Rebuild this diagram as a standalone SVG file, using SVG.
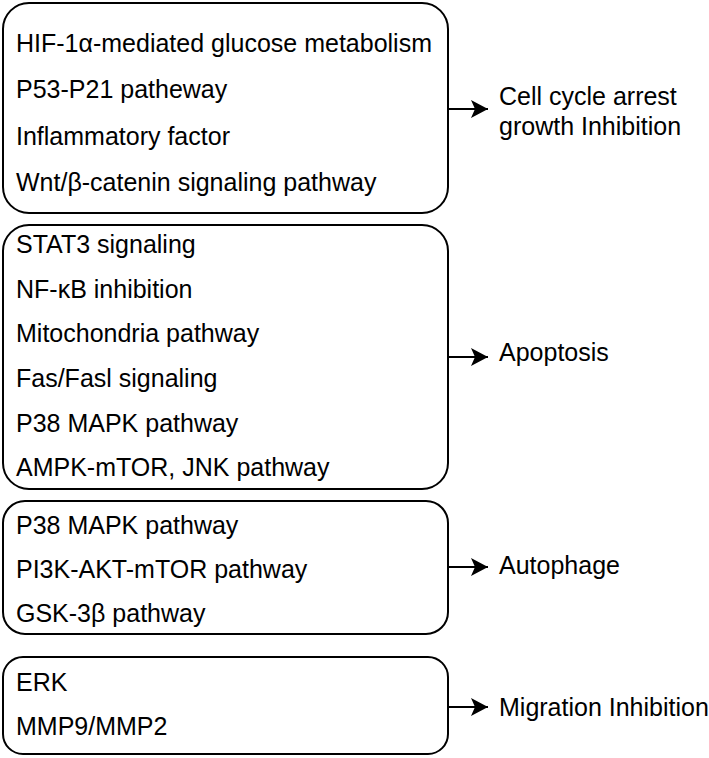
<svg xmlns="http://www.w3.org/2000/svg" width="709" height="758" viewBox="0 0 709 758">
<defs>
<marker id="ah" viewBox="0 0 18 18" refX="17" refY="9" markerWidth="18" markerHeight="18" markerUnits="userSpaceOnUse" orient="auto">
<path d="M0,0 L17,9 L0,18 L4,9 Z" fill="#000"/>
</marker>
<style>
.box{fill:#fff;stroke:#000;stroke-width:2}
.t{font-family:"Liberation Sans",Arial,sans-serif;font-size:25px;fill:#000}
.c{stroke:#000;stroke-width:2;fill:none}
</style>
</defs>
<rect width="709" height="758" fill="#fff"/>
<g id="box1">
<rect class="box" x="3" y="3" width="445" height="210" rx="26"/>
<text class="t" x="16" y="52">HIF-1α-mediated glucose metabolism</text>
<text class="t" x="16" y="98">P53-P21 patheway</text>
<text class="t" x="16" y="145">Inflammatory factor</text>
<text class="t" x="16" y="191">Wnt/β-catenin signaling pathway</text>
</g>
<g id="box2">
<rect class="box" x="3" y="225" width="445" height="264" rx="26"/>
<text class="t" x="16" y="253">STAT3 signaling</text>
<text class="t" x="16" y="298">NF-κB inhibition</text>
<text class="t" x="16" y="342">Mitochondria pathway</text>
<text class="t" x="16" y="387">Fas/Fasl signaling</text>
<text class="t" x="16" y="432">P38 MAPK pathway</text>
<text class="t" x="16" y="476">AMPK-mTOR, JNK pathway</text>
</g>
<g id="box3">
<rect class="box" x="3" y="501" width="445" height="133" rx="22"/>
<text class="t" x="16" y="534">P38 MAPK pathway</text>
<text class="t" x="16" y="578">PI3K-AKT-mTOR pathway</text>
<text class="t" x="16" y="622">GSK-3β pathway</text>
</g>
<g id="box4">
<rect class="box" x="3" y="657" width="445" height="97" rx="20"/>
<text class="t" x="16" y="691">ERK</text>
<text class="t" x="16" y="735">MMP9/MMP2</text>
</g>
<g id="out1"><text class="t" x="499" y="105">Cell cycle arrest</text><text class="t" x="499" y="135">growth Inhibition</text></g>
<g id="out2"><text class="t" x="499" y="361">Apoptosis</text></g>
<g id="out3"><text class="t" x="499" y="574">Autophage</text></g>
<g id="out4"><text class="t" x="499" y="716">Migration Inhibition</text></g>
<g id="connectors">
<line class="c" x1="448" y1="109" x2="488" y2="109" marker-end="url(#ah)"/>
<line class="c" x1="448" y1="357" x2="488" y2="357" marker-end="url(#ah)"/>
<line class="c" x1="448" y1="567" x2="488" y2="567" marker-end="url(#ah)"/>
<line class="c" x1="448" y1="707" x2="488" y2="707" marker-end="url(#ah)"/>
</g>
</svg>
